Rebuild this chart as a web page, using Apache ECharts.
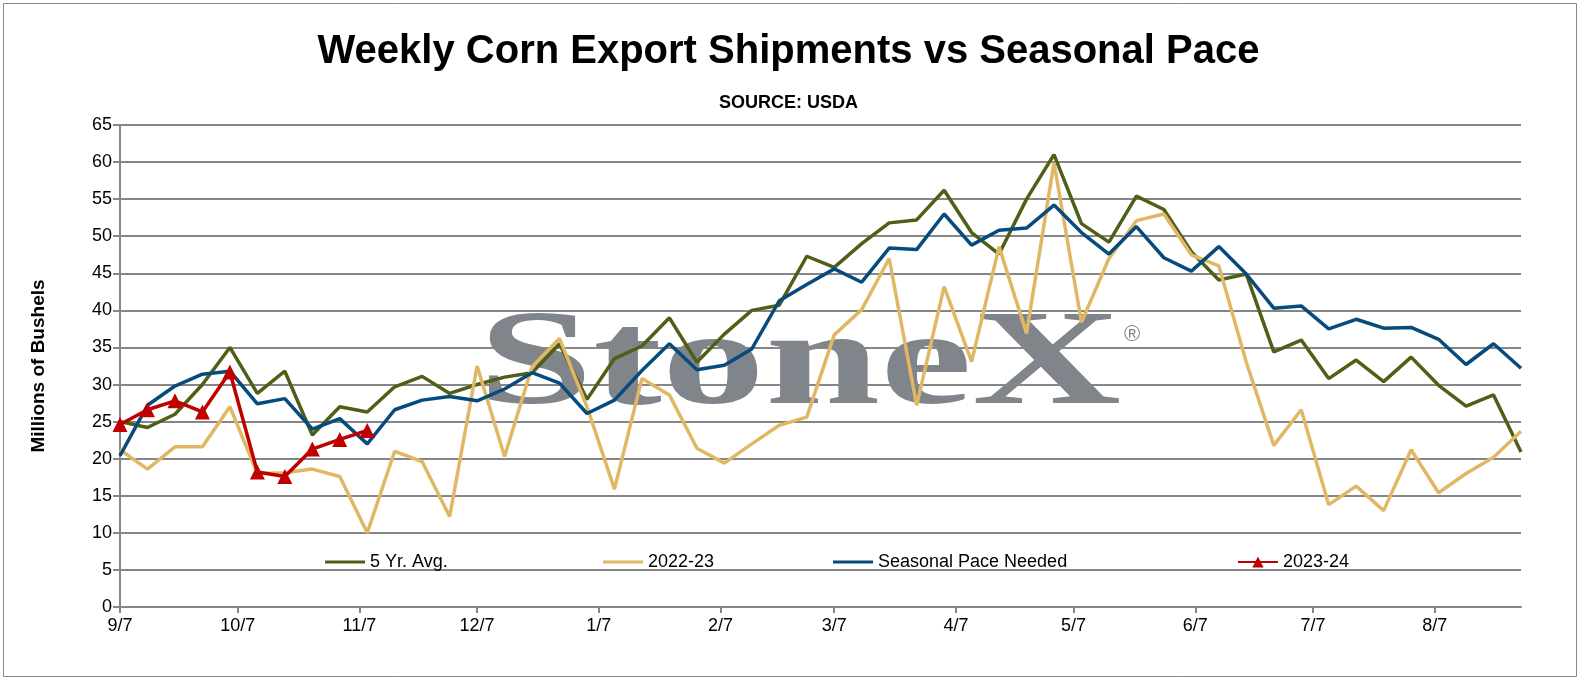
<!DOCTYPE html>
<html><head><meta charset="utf-8">
<script src="https://cdn.jsdelivr.net/npm/echarts@6/dist/echarts.min.js"></script>
<style>html,body{margin:0;padding:0;background:#fff}#c{width:1577px;height:677px}</style>
</head><body><div id="c"></div>
<script>
// weekly values, week 0 = 9/7
var fiveYrAvg = [25,24.2,26,30,35,28.8,31.8,23.2,27,26.3,29.7,31.1,28.8,30,31,31.6,35.5,28,33.5,35.2,39,33,36.8,40,40.7,47.3,45.8,49,51.8,52.2,56.2,50.5,47.6,55,61,51.7,49.2,55.4,53.6,47.9,44.1,44.9,34.4,36,30.8,33.3,30.4,33.7,29.9,27.1,28.6,20.9]
var y2022 = [21.2,18.6,21.6,21.6,27,18,18.1,18.6,17.6,10,21,19.6,12.2,32.5,20.3,32.4,36.2,27,15.9,30.8,28.6,21.4,19.4,22,24.5,25.6,36.7,40.1,47,27.2,43.2,33.1,48.6,36.9,59.9,38.4,47,52.1,53,47.5,46,33,21.8,26.6,13.8,16.3,13,21.2,15.4,18,20.2,23.7]
var seasonalPace = [20.4,27.2,29.8,31.4,31.8,27.4,28.1,24,25.4,22,26.6,27.9,28.4,27.8,29.4,31.6,30.2,26.1,27.9,31.9,35.5,32,32.6,34.8,41.3,43.5,45.6,43.8,48.4,48.2,53,48.8,50.8,51.1,54.2,50.5,47.6,51.3,47.1,45.3,48.6,44.9,40.3,40.6,37.5,38.8,37.6,37.7,36.1,32.7,35.5,32.2]
var y2023 = [24.6,26.6,27.8,26.3,31.7,18.2,17.6,21.3,22.6,23.8]

// daily category axis so month labels land on the 7th
var days = []
var start = new Date(2023, 8, 7)
for (var d = 0; d <= 357; d++) {
  var t = new Date(start.getTime() + d * 86400000)
  days.push((t.getMonth() + 1) + '/' + t.getDate())
}
function weekly(arr) {
  return arr.map(function (v, i) { return [days[i * 7], v] })
}
function isLabel(i) { return /\/7$/.test(days[i]) }

var chart = echarts.init(document.getElementById('c'))
var font = 'Arial, Liberation Sans'
function legend(name, left, icon) {
  var item = icon ? { name: name, icon: icon } : { name: name }
  return { left: left, top: 548, data: [item], itemWidth: 40, itemHeight: icon ? 3 : 14,
    textStyle: { fontSize: 18, color: '#000', fontFamily: font } }
}
chart.setOption({
  animation: false,
  title: [
    { text: 'Weekly Corn Export Shipments vs Seasonal Pace', left: 'center', top: 27,
      textStyle: { fontSize: 40, fontWeight: 'bold', color: '#000', fontFamily: font } },
    { text: 'SOURCE: USDA', left: 'center', top: 89,
      textStyle: { fontSize: 18, fontWeight: 'bold', color: '#000', fontFamily: font } }
  ],
  graphic: [
    { type: 'rect', left: 1, top: 1, shape: { width: 1573, height: 673 }, style: { fill: 'none', stroke: '#888', lineWidth: 1 }, z: -10 },
    { type: 'text', x: 478, y: 300, scaleX: 1.52, z: -5, style: { text: 'StoneX', fontSize: 136, fontWeight: 'bold', fontFamily: 'Liberation Serif, DejaVu Serif, serif', fill: '#80848b' } },
    { type: 'text', left: 1124, top: 324, z: -5, style: { text: '®', fontSize: 22, fontFamily: 'Liberation Sans', fill: '#80848b' } }
  ],
  legend: [
    legend('5 Yr. Avg.', 320, 'rect'),
    legend('2022-23', 598, 'rect'),
    legend('Seasonal Pace Needed', 828, 'rect'),
    legend('2023-24', 1232)
  ],
  grid: { left: 120, right: 56, top: 125, bottom: 70 },
  xAxis: {
    type: 'category', data: days, boundaryGap: false,
    axisLine: { lineStyle: { color: '#868686', width: 2 } },
    axisTick: { interval: function (i) { return isLabel(i) }, length: 6, lineStyle: { color: '#868686', width: 2 } },
    axisLabel: { interval: function (i) { return isLabel(i) }, fontSize: 18, color: '#000', margin: 10, fontFamily: font },
    splitLine: { show: false }
  },
  yAxis: {
    type: 'value', min: 0, max: 65, interval: 5,
    name: 'Millions of Bushels', nameLocation: 'middle', nameGap: 72,
    nameTextStyle: { fontSize: 19, fontWeight: 'bold', color: '#000', fontFamily: font },
    axisLine: { show: true, lineStyle: { color: '#868686', width: 2 } },
    axisTick: { show: true, length: 7, lineStyle: { color: '#868686', width: 2 } },
    axisLabel: { fontSize: 18, color: '#000', fontFamily: font },
    splitLine: { lineStyle: { color: '#868686', width: 2 } }
  },
  series: [
    { name: '5 Yr. Avg.', type: 'line', data: weekly(fiveYrAvg), symbol: 'none', color: '#4f5f16', lineStyle: { width: 3.5 } },
    { name: '2022-23', type: 'line', data: weekly(y2022), symbol: 'none', color: '#e0b865', lineStyle: { width: 3.5 } },
    { name: 'Seasonal Pace Needed', type: 'line', data: weekly(seasonalPace), symbol: 'none', color: '#074a7c', lineStyle: { width: 3.5 } },
    { name: '2023-24', type: 'line', data: weekly(y2023), symbol: 'triangle', symbolSize: 15, showAllSymbol: true, color: '#c00000', lineStyle: { width: 3.5 }, z: 5 }
  ]
})
</script></body></html>
